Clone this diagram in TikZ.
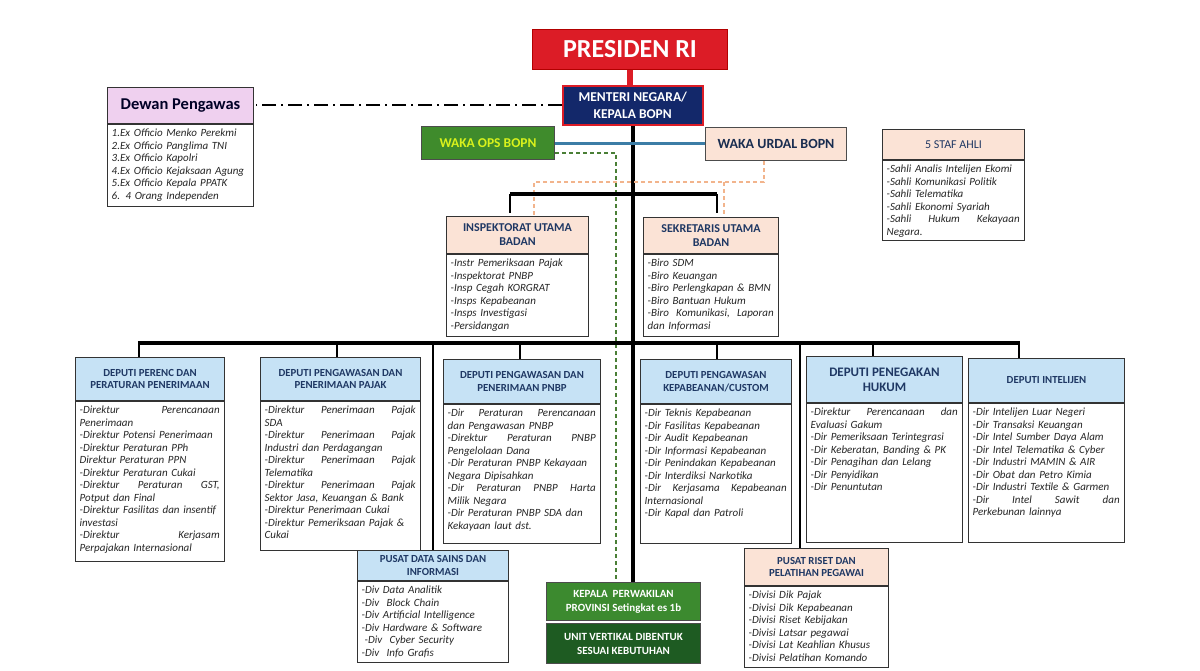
\documentclass[tikz,border=0pt]{standalone}
\usepackage{fontspec}
\setmainfont{Carlito}
\definecolor{lblue}{HTML}{C6E2F5}
\definecolor{peach}{HTML}{FBE3D6}
\definecolor{pinkh}{HTML}{EFD0EF}
\definecolor{navyt}{HTML}{1F3864}
\definecolor{presred}{HTML}{DC1C26}
\definecolor{mennavy}{HTML}{13286A}
\definecolor{opsgreen}{HTML}{3F8B2C}
\definecolor{opsyellow}{HTML}{D9F21C}
\definecolor{unitgreen}{HTML}{1E5B22}
\definecolor{kepgreen}{HTML}{3C8A2F}
\definecolor{lineblue}{HTML}{3C7DA6}
\definecolor{gdashc}{HTML}{4A7F36}
\definecolor{odashc}{HTML}{F2B48C}
\definecolor{bodygray}{HTML}{262626}
\newcommand\obox[9]{%
  \node[#7, minimum width=#4pt, minimum height=#5pt, anchor=north west] (#1h) at (#2,#3) {#8};
  \node[bodybox, minimum width=#4pt, minimum height=#6pt, anchor=north west] (#1b) at (#1h.south west) {};
  \pgfmathsetmacro\obt{#4-9}%
  \node[bodytext, text width=\obt pt, anchor=north west] (#1t) at ([xshift=4.5pt,yshift=-5pt]#1b.north west) {#9};
}
\begin{document}
\begin{tikzpicture}[x=1pt,y=-1pt,
  hdr/.style={draw=black!80, line width=1pt, align=center, inner sep=2pt, text=navyt,
    font=\bfseries\fontsize{10.8}{12.5}\selectfont},
  bluehdr/.style={hdr, fill=lblue},
  peachhdr/.style={hdr, fill=peach},
  bodybox/.style={draw=black!80, line width=1pt, fill=white, inner sep=0pt},
  bodytext/.style={align=left, inner sep=0pt, text=bodygray,
    font=\itshape\fontsize{11}{12.5}\selectfont},
  bus/.style={line width=4pt, black},
  tick/.style={line width=2.4pt, black},
  vline/.style={line width=2pt, black},
  solidbox/.style={draw=black!70, line width=1pt, align=center, inner sep=2pt, font=\bfseries}]
\useasboundingbox (0,0) rectangle (1200,670);

% ---------- coordinates for connectors ----------
\coordinate (u1) at (510,194);
\coordinate (u2) at (717,194);
\coordinate (o1) at (764,182);
\coordinate (o2) at (534,182);
\coordinate (o3) at (724,182);
\coordinate (g1) at (616,153);
\coordinate (b1) at (139,343);
\coordinate (b2) at (337,343);
\coordinate (b3) at (520,343);
\coordinate (b4) at (717,343);
\coordinate (b5) at (873,343);
\coordinate (b6) at (1019,343);
\coordinate (bv1) at (433,343);
\coordinate (bv2) at (800,343);

% ---------- top boxes ----------
\node[draw=red!70!black, line width=1pt, fill=presred, text=white, font=\bfseries\fontsize{26}{28}\selectfont,
  minimum width=195pt, minimum height=40pt, anchor=north west] (pres) at (532,29) {PRESIDEN RI};
\node[draw=presred, line width=1.5pt, fill=mennavy, text=white, align=center, font=\bfseries\fontsize{13.5}{16.5}\selectfont,
  minimum width=140pt, minimum height=39pt, anchor=north west] (menteri) at (562,85) {MENTERI NEGARA/\\KEPALA BOPN};
\node[solidbox, fill=opsgreen, text=opsyellow, font=\bfseries\fontsize{13.5}{15}\selectfont,
  minimum width=133pt, minimum height=33pt, anchor=north west] (wops) at (421,126) {WAKA OPS BOPN};
\node[solidbox, fill=peach, text=navyt!80!black, font=\bfseries\fontsize{14}{16}\selectfont,
  minimum width=141pt, minimum height=33pt, anchor=north west] (wurdal) at (705,127) {WAKA URDAL BOPN};

% ---------- connectors ----------
\draw[line width=2pt, dash pattern=on 14pt off 5pt on 2pt off 5pt] (menteri.west) -- (menteri.west -| 256,0);
\draw[bus] (menteri.south) -- (menteri.south |- 0,582);
\draw[line width=6pt, presred] (pres.south) -- (pres.south |- menteri.north);
\draw[line width=3pt, lineblue] (wops.east) -- (wops.east -| wurdal.west);
\draw[line width=1.5pt, gdashc, dash pattern=on 4pt off 3pt] (wops.east |- g1) -- (g1) -- (g1 |- 0,582);
\draw[line width=1.3pt, odashc, dash pattern=on 4pt off 3pt] (o1 |- wurdal.south) -- (o1) -- (o2) -- ([yshift=-4pt]o2 |- 0,217);
\draw[line width=1.3pt, odashc, dash pattern=on 4pt off 3pt] (o3) -- ([yshift=-4pt]o3 |- 0,217);
\draw[bus] (u1) -- (u2);
\draw[tick] (u1) -- (u1 |- 0,213);
\draw[tick] (u2) -- (u2 |- 0,213);
\draw[bus] ([xshift=-1.2pt]b1) -- ([xshift=1.2pt]b6);
\draw[tick] (b1) -- (b1 |- 0,357);
\draw[tick] (b2) -- (b2 |- 0,357);
\draw[tick] (b3) -- (b3 |- 0,359);
\draw[tick] (b4) -- (b4 |- 0,359);
\draw[tick] (b5) -- (b5 |- 0,356);
\draw[tick] (b6) -- (b6 |- 0,358);
\draw[vline] (bv1) -- (bv1 |- 0,550);
\draw[vline] (bv2) -- (bv2 |- 0,548);

% ---------- Dewan Pengawas ----------
\obox{dewan}{107}{87}{146}{36}{82}{hdr, fill=pinkh, text=black!85!blue, font=\bfseries\fontsize{16.5}{18}\selectfont}{Dewan Pengawas}{%
1.Ex Officio Menko Perekmi\\
2.Ex Officio Panglima TNI\\
3.Ex Officio Kapolri\\
4.Ex Officio Kejaksaan Agung\\
5.Ex Officio Kepala PPATK\\
6. 4 Orang Independen}

% ---------- Staf ahli ----------
\obox{staf}{882}{129}{142}{30}{80}{peachhdr, font=\fontsize{12}{14}\selectfont}{5 STAF AHLI}{%
-Sahli Analis Intelijen Ekomi\\
-Sahli Komunikasi Politik\\
-Sahli Telematika\\
-Sahli Ekonomi Syariah\\
-Sahli \hfill Hukum \hfill Kekayaan\\
Negara.}

% ---------- Inspektorat / Sekretaris ----------
\obox{insp}{446}{216}{142}{37}{82}{peachhdr, font=\bfseries\fontsize{12}{14}\selectfont}{INSPEKTORAT UTAMA\\BADAN}{%
-Instr Pemeriksaan Pajak\\
-Inspektorat PNBP\\
-Insp Cegah KORGRAT\\
-Insps Kepabeanan\\
-Insps Investigasi\\
-Persidangan}
\obox{sek}{643}{217}{135}{36}{82}{peachhdr, font=\bfseries\fontsize{12}{14}\selectfont}{SEKRETARIS UTAMA\\BADAN}{%
-Biro SDM\\
-Biro Keuangan\\
\mbox{-Biro\ Perlengkapan \& BMN}\\
-Biro Bantuan Hukum\\
-Biro \hfill Komunikasi, \hfill Laporan\\
dan Informasi}

% ---------- Deputies ----------
\obox{d1}{75}{357}{149}{43}{160}{bluehdr}{DEPUTI PERENC DAN\\PERATURAN PENERIMAAN}{%
-Direktur \hfill Perencanaan\\
Penerimaan\\
-Direktur Potensi Penerimaan\\
-Direktur Peraturan PPh\\
Direktur Peraturan PPN\\
-Direktur Peraturan Cukai\\
-Direktur \hfill Peraturan \hfill GST,\\
Potput dan Final\\
\mbox{-Direktur Fasilitas dan insentif}\\
investasi\\
-Direktur \hfill Kerjasam\\
Perpajakan Internasional}
\obox{d2}{260}{357}{160}{43}{149}{bluehdr}{DEPUTI PENGAWASAN DAN\\PENERIMAAN PAJAK}{%
-Direktur \hfill Penerimaan \hfill Pajak\\
SDA\\
-Direktur \hfill Penerimaan \hfill Pajak\\
Industri dan Perdagangan\\
-Direktur \hfill Penerimaan \hfill Pajak\\
Telematika\\
-Direktur \hfill Penerimaan \hfill Pajak\\
Sektor Jasa, Keuangan \& Bank\\
-Direktur Penerimaan Cukai\\
-Direktur Pemeriksaan Pajak \&\\
Cukai}
\obox{d3}{443}{359}{157}{44}{139}{bluehdr}{DEPUTI PENGAWASAN DAN\\PENERIMAAN PNBP}{%
-Dir \hfill Peraturan \hfill Perencanaan\\
dan Pengawasan PNBP\\
-Direktur \hfill Peraturan \hfill PNBP\\
Pengelolaan Dana\\
-Dir Peraturan PNBP Kekayaan\\
Negara Dipisahkan\\
-Dir \hfill Peraturan \hfill PNBP \hfill Harta\\
Milik Negara\\
-Dir Peraturan PNBP SDA dan\\
Kekayaan laut dst.}
\obox{d4}{640}{359}{151}{44}{139}{bluehdr}{DEPUTI PENGAWASAN\\KEPABEANAN/CUSTOM}{%
-Dir Teknis Kepabeanan\\
-Dir Fasilitas Kepabeanan\\
-Dir Audit Kepabeanan\\
-Dir Informasi Kepabeanan\\
-Dir Penindakan Kepabeanan\\
-Dir Interdiksi Narkotika\\
-Dir \hfill Kerjasama \hfill Kepabeanan\\
Internasional\\
-Dir Kapal dan Patroli}
\obox{d5}{806}{356}{156}{46}{139}{bluehdr, font=\bfseries\fontsize{13}{15}\selectfont}{DEPUTI PENEGAKAN\\HUKUM}{%
-Direktur \hfill Perencanaan \hfill dan\\
Evaluasi Gakum\\
-Dir Pemeriksaan Terintegrasi\\
-Dir Keberatan, Banding \& PK\\
-Dir Penagihan dan Lelang\\
-Dir Penyidikan\\
-Dir Penuntutan}
\obox{d6}{968}{358}{156}{44}{139}{bluehdr}{DEPUTI INTELIJEN}{%
-Dir Intelijen Luar Negeri\\
-Dir Transaksi Keuangan\\
-Dir Intel Sumber Daya Alam\\
-Dir Intel Telematika \& Cyber\\
-Dir Industri MAMIN \& AIR\\
-Dir Obat dan Petro Kimia\\
-Dir Industri Textile \& Garmen\\
-Dir \hfill Intel \hfill Sawit \hfill dan\\
Perkebunan lainnya}

% ---------- bottom ----------
\obox{pd}{357}{550}{151}{30}{81}{bluehdr}{PUSAT DATA SAINS DAN\\INFORMASI}{%
-Div Data Analitik\\
-Div\ \ Block Chain\\
-Div Artificial Intelligence\\
-Div Hardware \& Software\\
\hspace*{3pt}-Div\ \ Cyber Security\\
-Div\ \ Info Grafis}
\obox{pr}{744}{548}{144}{37}{81}{peachhdr}{PUSAT RISET DAN\\PELATIHAN PEGAWAI}{%
-Divisi Dik Pajak\\
-Divisi Dik Kepabeanan\\
-Divisi Riset Kebijakan\\
-Divisi Latsar pegawai\\
-Divisi Lat Keahlian Khusus\\
-Divisi Pelatihan Komando}
\node[solidbox, fill=kepgreen, text=white, font=\bfseries\fontsize{11}{14}\selectfont,
  minimum width=154pt, minimum height=38pt, anchor=north west] (kepala) at (546,582) {KEPALA\ \ PERWAKILAN\\PROVINSI Setingkat es 1b};
\node[solidbox, fill=unitgreen, text=white, font=\bfseries\fontsize{11}{14}\selectfont,
  minimum width=154pt, minimum height=40pt, anchor=north west] (unit) at (546,623) {UNIT VERTIKAL DIBENTUK\\SESUAI KEBUTUHAN};
\end{tikzpicture}
\end{document}
